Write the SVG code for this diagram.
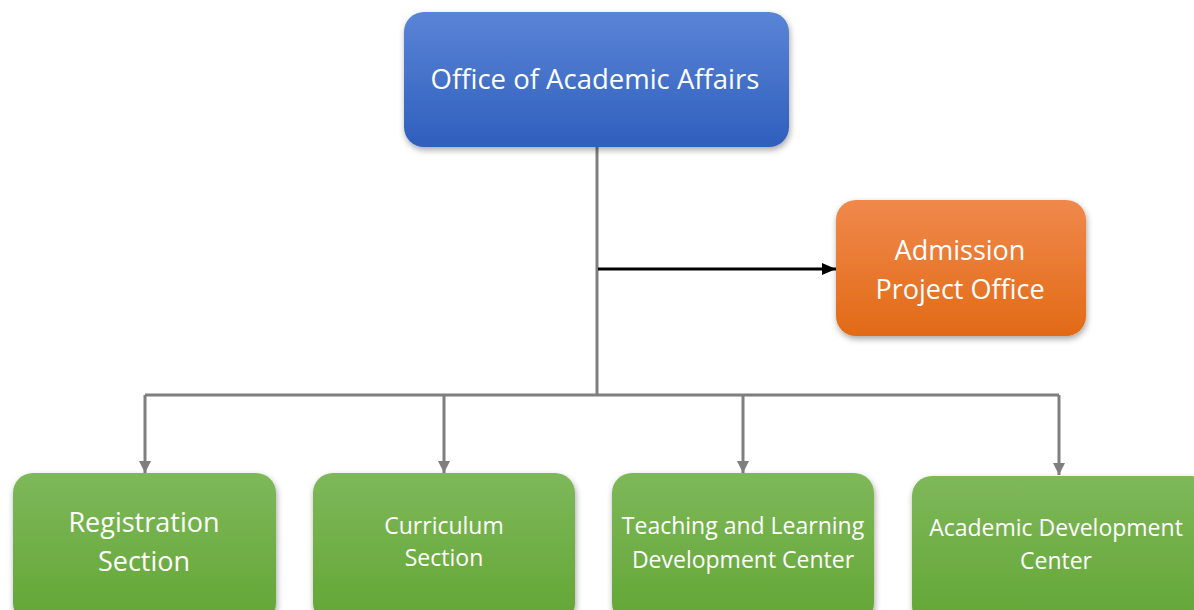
<svg xmlns="http://www.w3.org/2000/svg" width="1194" height="610" viewBox="0 0 1194 610">
<defs>
<linearGradient id="gBlue" x1="0" y1="0" x2="0" y2="1"><stop offset="0" stop-color="#5a84d6"/><stop offset="1" stop-color="#2f5fbd"/></linearGradient>
<linearGradient id="gOrange" x1="0" y1="0" x2="0" y2="1"><stop offset="0" stop-color="#f0894b"/><stop offset="1" stop-color="#e26a17"/></linearGradient>
<linearGradient id="gGreen" x1="0" y1="0" x2="0" y2="1"><stop offset="0" stop-color="#7eb85a"/><stop offset="1" stop-color="#63a635"/></linearGradient>
<filter id="sh" x="-10%" y="-10%" width="120%" height="130%"><feDropShadow dx="1" dy="3" stdDeviation="3" flood-color="#000" flood-opacity="0.35"/></filter>
<marker id="ag" markerWidth="12" markerHeight="12" refX="12" refY="6" orient="auto" markerUnits="userSpaceOnUse" viewBox="0 0 12 12"><path d="M0,0 L12,6 L0,12 z" fill="#7f7f7f"/></marker>
<marker id="ab" markerWidth="14" markerHeight="12" refX="14" refY="6" orient="auto" markerUnits="userSpaceOnUse" viewBox="0 0 14 12"><path d="M0,0 L14,6 L0,12 z" fill="#000"/></marker>
</defs>
<style>
text{font-family:"Open Sans","Liberation Sans",sans-serif;fill:#fff;text-anchor:middle}
.t1{font-size:27.5px}
.t2{font-size:27px}
.t3{font-size:23px}
.c{fill:none;stroke:#7f7f7f;stroke-width:3}
</style>
<rect width="1194" height="610" fill="#fff"/>
<g id="connectors">
<path class="c" d="M597,147 V395"/>
<path class="c" d="M145,395 H1059"/>
<path class="c" d="M145,395 V473" marker-end="url(#ag)"/>
<path class="c" d="M444,395 V473" marker-end="url(#ag)"/>
<path class="c" d="M743,395 V473" marker-end="url(#ag)"/>
<path class="c" d="M1059,395 V475" marker-end="url(#ag)"/>
<path d="M598,269 H836" fill="none" stroke="#000" stroke-width="3" marker-end="url(#ab)"/>
</g>
<g id="office">
<rect x="404" y="12" width="385" height="135" rx="20" fill="url(#gBlue)" filter="url(#sh)"/>
<text class="t1" x="595" y="89">Office of Academic Affairs</text>
</g>
<g id="admission">
<rect x="836" y="200" width="250" height="136" rx="20" fill="url(#gOrange)" filter="url(#sh)"/>
<text class="t2" x="960" y="260">Admission</text>
<text class="t2" x="960" y="299">Project Office</text>
</g>
<g id="registration">
<rect x="13" y="473" width="263" height="150" rx="20" fill="url(#gGreen)" filter="url(#sh)"/>
<text class="t2" x="144" y="532">Registration</text>
<text class="t2" x="144" y="571">Section</text>
</g>
<g id="curriculum">
<rect x="313" y="473" width="262" height="150" rx="20" fill="url(#gGreen)" filter="url(#sh)"/>
<text class="t3" x="444" y="534">Curriculum</text>
<text class="t3" x="444" y="566">Section</text>
</g>
<g id="teaching">
<rect x="612" y="473" width="262" height="150" rx="20" fill="url(#gGreen)" filter="url(#sh)"/>
<text class="t3" x="743" y="534">Teaching and Learning</text>
<text class="t3" x="743" y="568">Development Center</text>
</g>
<g id="academic">
<rect x="912" y="476" width="300" height="150" rx="20" fill="url(#gGreen)" filter="url(#sh)"/>
<text class="t3" x="1056" y="536">Academic Development</text>
<text class="t3" x="1056" y="569">Center</text>
</g>
</svg>
